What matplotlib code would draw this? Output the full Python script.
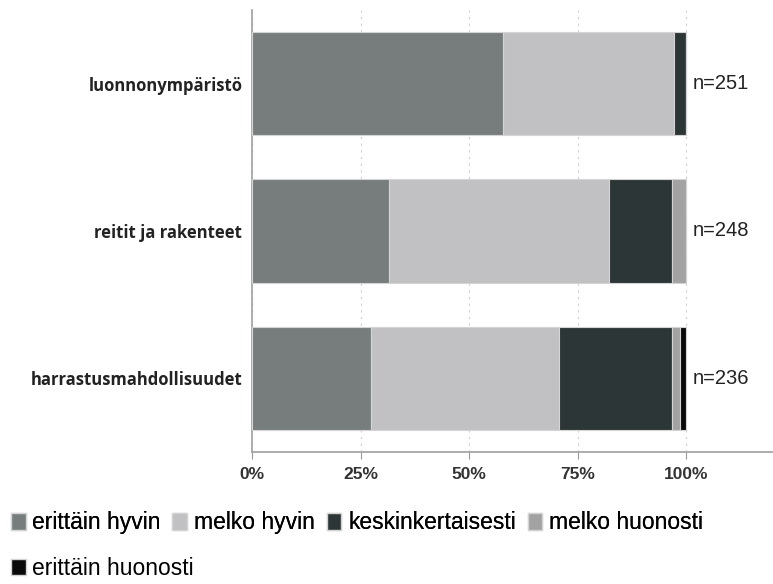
import numpy as np
import matplotlib.pyplot as plt
from matplotlib.patches import Patch

# ---- data (percent of respondents) ----
categories = ["luonnonympäristö", "reitit ja rakenteet", "harrastusmahdollisuudet"]
n_labels = ["n=251", "n=248", "n=236"]
series_names = ["erittäin hyvin", "melko hyvin", "keskinkertaisesti",
                "melko huonosti", "erittäin huonosti"]
erittain_hyvin = [57.7, 31.6, 27.3]
melko_hyvin = [39.5, 50.6, 43.5]
keskinkertaisesti = [2.8, 14.6, 26.0]
melko_huonosti = [0.0, 3.2, 1.8]
erittain_huonosti = [0.0, 0.0, 1.4]
xticks = [0, 25, 50, 75, 100]
xticklabels = ["0%", "25%", "50%", "75%", "100%"]

colors = ["#777d7d", "#c1c1c3", "#2d3636", "#a2a2a2", "#0a0a0a"]
sans = ["Liberation Sans", "DejaVu Sans"]

fig = plt.figure(figsize=(7.73, 5.84), dpi=100)
ax = fig.add_axes([0.326, 0.226, 0.674, 0.757])

series = [erittain_hyvin, melko_hyvin, keskinkertaisesti,
          melko_huonosti, erittain_huonosti]
y = np.arange(len(categories))
left = np.zeros(len(categories))
for vals, col, name in zip(series, colors, series_names):
    ax.barh(y, vals, left=left, height=0.7, color=col,
            edgecolor="#d4d4d4", linewidth=0.8, label=name, zorder=3)
    left += np.array(vals)

for yi, lab in zip(y, n_labels):
    ax.text(101.5, yi, lab, va="center", ha="left", fontsize=14.5,
            family=sans, color="#222222")

ax.set_ylim(len(categories) - 0.5, -0.5)
ax.set_xlim(0, 120)
ax.set_yticks(y)
ax.set_yticklabels(categories, fontsize=12, fontweight="bold",
                   family=["Open Sans", "DejaVu Sans"], color="#222222")
ax.set_xticks(xticks)
ax.set_xticklabels(xticklabels, fontsize=12.5, fontweight="bold",
                   family=sans, color="#333333")

ax.grid(axis="x", linestyle=(0, (2, 4)), color="#cfcfcf", linewidth=0.8, zorder=0)
ax.tick_params(axis="y", length=0, pad=7)
ax.tick_params(axis="x", length=5, color="#999999", pad=6)
for side in ["top", "right"]:
    ax.spines[side].set_visible(False)
for side in ["left", "bottom"]:
    ax.spines[side].set_color("#a0a0a0")
    ax.spines[side].set_linewidth(1.2)

# ---- legend: four entries on the first row, the last on its own row ----
handles = [Patch(facecolor=c, edgecolor="#d4d4d4", label=n)
           for c, n in zip(colors, series_names)]
leg_kw = dict(loc="upper left", frameon=False, prop={"family": sans, "size": 16.5},
              handlelength=0.65, handleheight=0.75, handletextpad=0.3,
              columnspacing=0.5, borderaxespad=0)
leg1 = fig.legend(handles=handles[:4], bbox_to_anchor=(0.002, 0.140), ncol=4, **leg_kw)
fig.add_artist(leg1)
fig.legend(handles=handles[4:], bbox_to_anchor=(0.002, 0.062), ncol=1, **leg_kw)

plt.savefig("out.png", dpi=100)
